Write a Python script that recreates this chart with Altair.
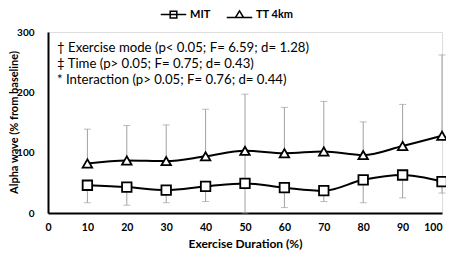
import altair as alt
import pandas as pd

duration = [10, 20, 30, 40, 50, 60, 70, 80, 90, 100]
mit = [46, 43, 38, 44, 49, 42, 37, 55, 63, 52]
tt = [82, 87, 86, 94, 103, 99, 102, 96, 111, 128]
mit_err_lo = [17, 13, 17, 19, 0, 9, 19, 17, 25, 33]
mit_err_hi = [46, 43, 38, 44, 98, 42, 37, 55, 63, 52]
tt_err_lo = [82, 87, 86, 94, 103, 99, 102, 96, 111, 128]
tt_err_hi = [139, 145, 146, 172, 197, 175, 185, 151, 180, 262]
notes = [
    "\u2020 Exercise mode (p< 0.05; F= 6.59; d= 1.28)",
    "\u2021 Time (p> 0.05; F= 0.75; d= 0.43)",
    "* Interaction (p> 0.05; F= 0.76; d= 0.44)",
]
note_y = [274, 247, 220]
series_names = ["MIT", "TT 4km"]
x_ticks = [0, 10, 20, 30, 40, 50, 60, 70, 80, 90, 100]
y_ticks = [0, 100, 200, 300]

FONT = "Lato"

df = pd.DataFrame({
    "x": duration * 2,
    "v": mit + tt,
    "lo": mit_err_lo + tt_err_lo,
    "hi": mit_err_hi + tt_err_hi,
    "cap": mit_err_lo + tt_err_hi,
    "series": ["MIT"] * 10 + ["TT 4km"] * 10,
})
notes_df = pd.DataFrame({"t": notes, "y": note_y})

xaxis = alt.Axis(values=x_ticks, title="Exercise Duration (%)",
                 grid=False, ticks=False, domainColor="black", domainWidth=2,
                 labelFont=FONT, labelFontWeight="bold", labelFontSize=10.5,
                 labelColor="black", labelPadding=9, labelFlush=False,
                 labelOverlap=False, labelSeparation=0,
                 labelAlign=alt.ExprRef("datum.value == 100 ? 'right' : 'center'"),
                 titleFont=FONT, titleFontWeight="bold", titleFontSize=12,
                 titleColor="black", titlePadding=6)
yaxis = alt.Axis(values=y_ticks, title="Alpha wave (% from baseline)",
                 grid=False, ticks=False, domainColor="black", domainWidth=2,
                 labelFont=FONT, labelFontWeight="bold", labelFontSize=10,
                 labelColor="black", labelPadding=14, labelOverlap=False,
                 titleFont=FONT, titleFontWeight="bold", titleFontSize=11,
                 titleColor="black", titleX=-34, titleY=90, titleBaseline="middle",
                 titleAngle=270)
xsc = alt.Scale(domain=[0, 100], nice=False)
ysc = alt.Scale(domain=[0, 300], nice=False)

def X():
    return alt.X("x:Q", scale=xsc, axis=xaxis)

base = alt.Chart(df)

err = base.mark_rule(color="#A0A0A0", strokeWidth=1).encode(
    x=X(), y=alt.Y("lo:Q", scale=ysc, axis=yaxis), y2="hi:Q")
caps = base.mark_tick(color="#A0A0A0", orient="horizontal", size=7, thickness=1).encode(
    x=X(), y=alt.Y("cap:Q", scale=ysc, axis=yaxis))
lines = base.mark_line(color="black", strokeWidth=2, interpolate="monotone").encode(
    x=X(), y=alt.Y("v:Q", scale=ysc, axis=yaxis), detail="series:N")
pts = base.mark_point(filled=True, fill="white", stroke="black", strokeWidth=1.8, opacity=1).encode(
    x=X(), y=alt.Y("v:Q", scale=ysc, axis=yaxis),
    shape=alt.Shape("series:N", scale=alt.Scale(domain=series_names, range=["square", "triangle-up"]),
                    legend=None),
    size=alt.value(90))

p1 = "M-1,0H1M-0.26,-0.26H0.26V0.26H-0.26Z"
p2 = "M-1,0.2H1M0,-0.32L0.32,0.2H-0.32Z"
leg = base.mark_point(filled=False, stroke="black", strokeWidth=1.5, opacity=1).encode(
    x=X(), y=alt.Y("v:Q", scale=ysc, axis=yaxis),
    shape=alt.Shape("series:N", scale=alt.Scale(domain=series_names, range=[p1, p2]),
                    legend=alt.Legend(title=None, orient="none", legendX=112, legendY=-31,
                                      direction="horizontal", symbolSize=650,
                                      symbolStrokeColor="black",
                                      symbolStrokeWidth=1.5, symbolOpacity=1,
                                      labelFont=FONT, labelFontWeight="bold",
                                      labelFontSize=11, labelColor="black",
                                      labelOffset=3, columnPadding=12, padding=0)),
).transform_filter("datum.x < 0")

txt = alt.Chart(notes_df).mark_text(align="left", baseline="middle", font=FONT,
                                    fontSize=13.2, color="black").encode(
    x=alt.value(9), y=alt.Y("y:Q", scale=ysc, axis=yaxis), text="t:N")

chart = alt.layer(err, caps, lines, pts, leg, txt).resolve_scale(shape="independent").properties(
    width=394, height=181, autosize="none",
    padding={"left": 40, "top": 24, "right": 4, "bottom": 37},
).configure_view(stroke=None).configure_axis(labelOverlap=False).configure(background="white")

chart.save("out.html", embed_options={"renderer": "svg", "actions": False})
